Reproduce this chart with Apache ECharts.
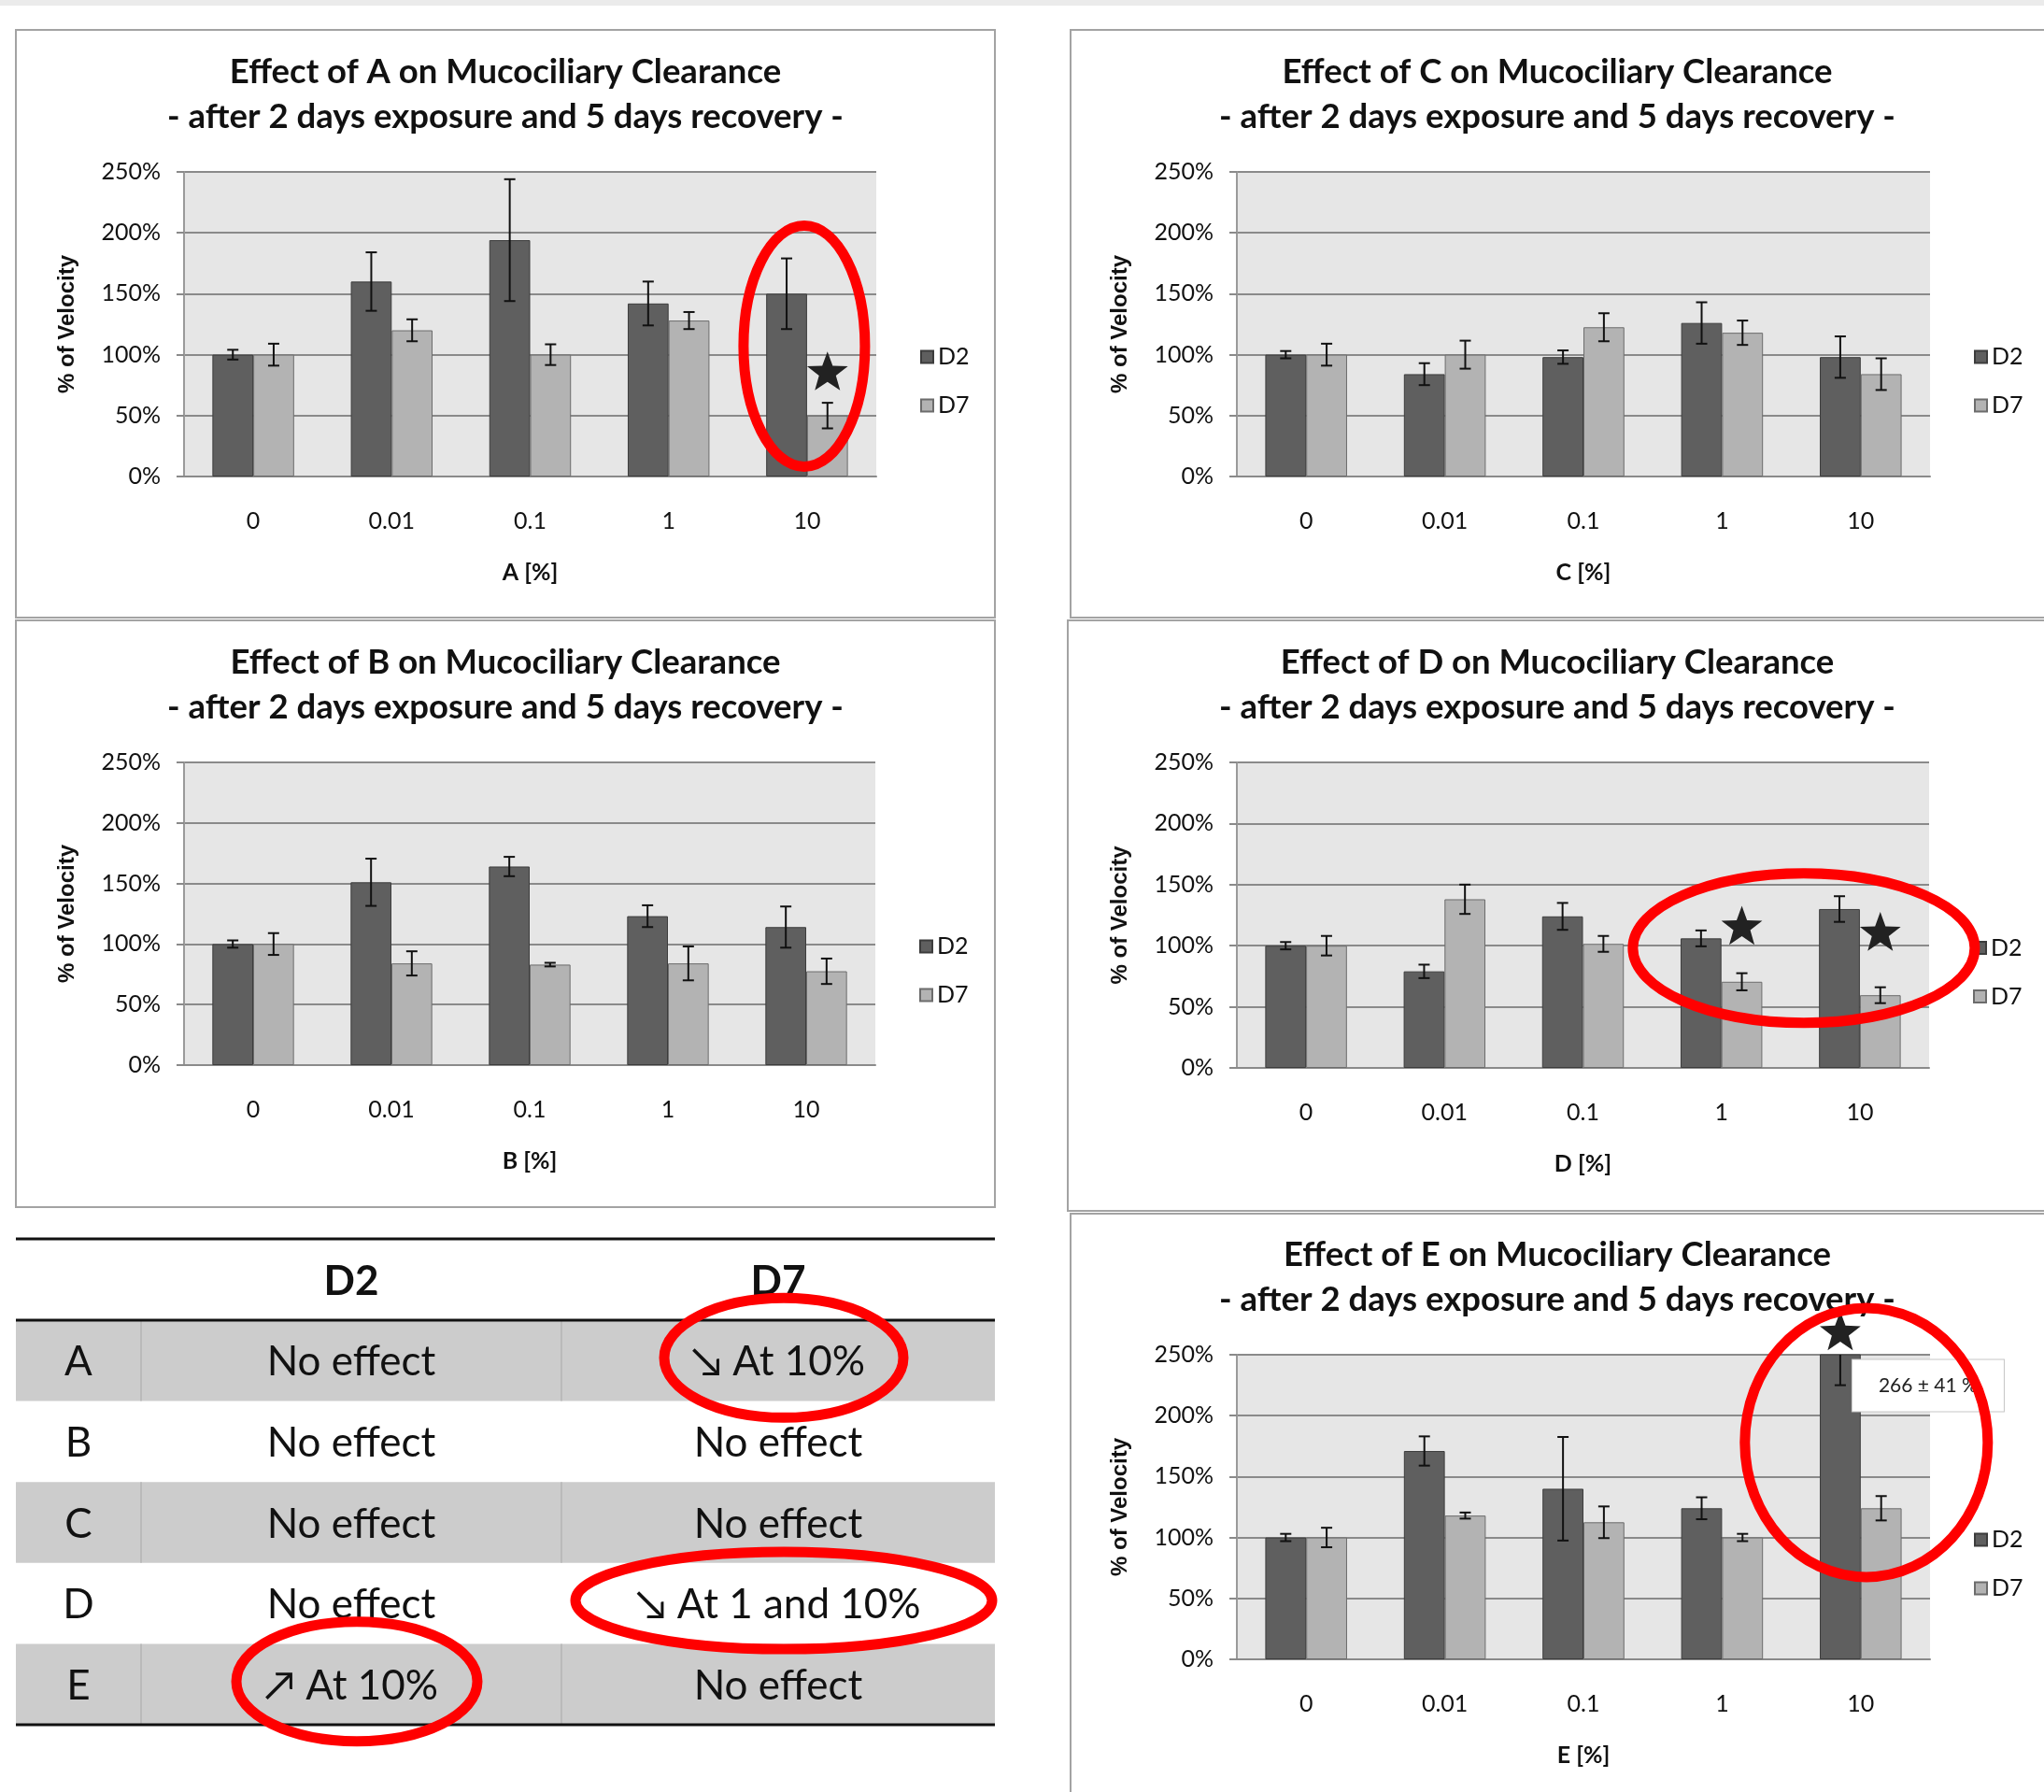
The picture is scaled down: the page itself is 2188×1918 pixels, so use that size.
<!DOCTYPE html>
<html>
<head>
<meta charset="utf-8">
<title>Mucociliary Clearance</title>
<script src="https://cdn.jsdelivr.net/npm/echarts/dist/echarts.min.js"></script>
<style>
  html, body { margin: 0; padding: 0; background: #ffffff; }
  #main { width: 2188px; height: 1918px; }
</style>
</head>
<body>
<div id="main"></div>
<script>
// Concentrations tested (x axis categories)
const categories = ['0', '0.01', '0.1', '1', '10'];
const seriesNames = ['D2', 'D7'];
const yTicks = [0, 50, 100, 150, 200, 250];

// Mean ciliary beat velocity (% of control) and SD, per agent and day
const aD2 = [100, 160, 194, 142, 150];
const aD2Err = [4, 24, 50, 18, 29];
const aD7 = [100, 120, 100, 128, 50];
const aD7Err = [9, 9, 8.5, 7, 10.5];

const bD2 = [100, 151, 164, 123, 114];
const bD2Err = [3, 19.5, 8, 9, 17];
const bD7 = [100, 84, 83, 84, 77.5];
const bD7Err = [9, 10, 1.5, 14, 10.5];

const cD2 = [100, 84, 98, 126, 98];
const cD2Err = [3, 9, 5.5, 17, 17];
const cD7 = [100, 100, 122.5, 118, 84];
const cD7Err = [9, 11.5, 11.5, 10, 13];

const dD2 = [100, 79, 124, 106, 130];
const dD2Err = [3, 5.5, 11, 6.5, 10.5];
const dD7 = [100, 138, 101.5, 70.5, 59.5];
const dD7Err = [8, 12, 6.5, 7, 6.5];

const eD2 = [100, 171, 140, 124, 266];
const eD2Err = [3, 12, 42.5, 9, 41];
const eD7 = [100, 118, 112.5, 100, 124];
const eD7Err = [8, 2.5, 13, 3, 10];

// Significance stars: [category index, height (%), bar slot 0=D2 1=D7]
const starsA = [[4, 85, 1]];
const starsD = [[3, 115, 1], [4, 110, 1]];
const starsE = [[4, 268, 0]];

// Summary table
const tableAgents = ['A', 'B', 'C', 'D', 'E'];
const tableD2 = ['No effect', 'No effect', 'No effect', 'No effect', '\u2197 At 10%'];
const tableD7 = ['\u2198 At 10%', 'No effect', 'No effect', '\u2198 At 1 and 10%', 'No effect'];
// Highlighted cells: [row, column(1=D2, 2=D7), ellipse rx, ry]
const tableHighlights = [[0, 2, 128, 64], [3, 2, 223, 52], [4, 1, 129, 64]];

const FONT = "Lato, 'Open Sans', 'Liberation Sans', sans-serif";
const AXIS_NAME_FONT = "'Liberation Sans', Arial, sans-serif";
const D2_COLOR = '#5f5f5f';
const D7_COLOR = '#b3b3b3';
const GRID_LINE = '#8a8a8a';
const BAR_GAP = 0.41;

const agents = {
  A: { d2: aD2, d2Err: aD2Err, d7: aD7, d7Err: aD7Err, stars: starsA },
  B: { d2: bD2, d2Err: bD2Err, d7: bD7, d7Err: bD7Err, stars: [] },
  C: { d2: cD2, d2Err: cD2Err, d7: cD7, d7Err: cD7Err, stars: [] },
  D: { d2: dD2, d2Err: dD2Err, d7: dD7, d7Err: dD7Err, stars: starsD },
  E: { d2: eD2, d2Err: eD2Err, d7: eD7, d7Err: eD7Err, stars: starsE }
};

// Panel frames and plot areas
const panels = [
  { agent: 'A', box: [17, 32, 1048, 629], cx: 541, grid: { left: 197, top: 184, width: 741, height: 326 } },
  { agent: 'C', box: [1146, 32, 1060, 629], cx: 1667, grid: { left: 1324, top: 184, width: 742, height: 326 } },
  { agent: 'B', box: [17, 664, 1048, 628], cx: 541, grid: { left: 197, top: 816, width: 740, height: 324 } },
  { agent: 'D', box: [1143, 664, 1060, 632], cx: 1667, grid: { left: 1324, top: 816, width: 741, height: 327 } },
  { agent: 'E', box: [1146, 1299, 1060, 640], cx: 1667, grid: { left: 1324, top: 1450, width: 742, height: 326 } }
];

function barCenter(api, idx, slot) {
  const band = api.size([1, 0])[0];
  const barW = band * (1 - BAR_GAP) / 2;
  return api.coord([idx, 0])[0] + (slot === 0 ? -barW / 2 : barW / 2);
}

function errorBarRenderer(slot) {
  return function (params, api) {
    const idx = api.value(0), v = api.value(1), e = api.value(2);
    const cx = barCenter(api, idx, slot);
    const top = api.coord([idx, v + e])[1];
    const bot = api.coord([idx, v - e])[1];
    const cap = 6;
    const style = { stroke: '#111', lineWidth: 2 };
    return {
      type: 'group',
      children: [
        { type: 'line', shape: { x1: cx, y1: top, x2: cx, y2: bot }, style },
        { type: 'line', shape: { x1: cx - cap, y1: top, x2: cx + cap, y2: top }, style },
        { type: 'line', shape: { x1: cx - cap, y1: bot, x2: cx + cap, y2: bot }, style }
      ]
    };
  };
}

function starRenderer(params, api) {
  const idx = api.value(0), v = api.value(1), slot = api.value(2);
  const cx = barCenter(api, idx, slot);
  const cy = api.coord([idx, v])[1];
  const R = 23, r = 9.5;
  const pts = [];
  for (let k = 0; k < 10; k++) {
    const a = -Math.PI / 2 + k * Math.PI / 5;
    const rad = k % 2 ? r : R;
    pts.push([cx + rad * Math.cos(a), cy + rad * Math.sin(a)]);
  }
  return { type: 'polygon', shape: { points: pts }, style: { fill: '#222222' } };
}

const grids = [], xAxes = [], yAxes = [], series = [], titles = [], legends = [], graphics = [];

// light strip along the top edge
graphics.push({ type: 'rect', shape: { x: 0, y: 0, width: 2188, height: 6 }, style: { fill: '#ebebeb' }, silent: true });

panels.forEach((p, i) => {
  const a = agents[p.agent];
  const g = p.grid;
  graphics.push({
    type: 'rect', z: -1, silent: true,
    shape: { x: p.box[0], y: p.box[1], width: p.box[2], height: p.box[3] },
    style: { fill: '#ffffff', stroke: '#a3a3a3', lineWidth: 2 }
  });
  grids.push({
    left: g.left, top: g.top, width: g.width, height: g.height,
    show: true, backgroundColor: '#e6e6e6', borderWidth: 0, containLabel: false
  });
  titles.push({
    text: 'Effect of ' + p.agent + ' on Mucociliary Clearance\n- after 2 days exposure and 5 days recovery -',
    left: p.cx, top: g.top - 131, textAlign: 'center', padding: 0,
    textStyle: { fontFamily: FONT, fontSize: 36.5, fontWeight: 'bold', lineHeight: 48, color: '#111' }
  });
  xAxes.push({
    type: 'category', gridIndex: i, data: categories,
    name: p.agent + ' [%]', nameLocation: 'middle', nameGap: 90,
    nameTextStyle: { fontFamily: FONT, fontSize: 25, fontWeight: 'bold', color: '#111' },
    axisLabel: { fontFamily: FONT, fontSize: 25, color: '#111', margin: 35 },
    axisTick: { show: false },
    axisLine: { lineStyle: { color: GRID_LINE, width: 2 } }
  });
  yAxes.push({
    type: 'value', gridIndex: i, min: yTicks[0], max: yTicks[yTicks.length - 1], interval: yTicks[1] - yTicks[0],
    name: '% of Velocity', nameLocation: 'middle', nameGap: 113, nameRotate: 90,
    nameTextStyle: { fontFamily: AXIS_NAME_FONT, fontSize: 24, fontWeight: 'bold', color: '#111' },
    axisLabel: { formatter: '{value}%', fontFamily: FONT, fontSize: 25, color: '#111', margin: 25 },
    axisLine: { show: true, lineStyle: { color: '#9a9a9a', width: 2 } },
    axisTick: { show: true, length: 8, lineStyle: { color: GRID_LINE, width: 2 } },
    splitLine: { lineStyle: { color: GRID_LINE, width: 2 } }
  });
  legends.push({
    orient: 'vertical', left: g.left + g.width + 42, top: g.top + g.height / 2 + 17,
    itemWidth: 13, itemHeight: 13, itemGap: 26, icon: 'rect',
    data: seriesNames,
    textStyle: { fontFamily: FONT, fontSize: 25, color: '#111', lineHeight: 26 }
  });

  const d2Data = a.d2.slice();
  const d2Series = {
    name: 'D2', type: 'bar', xAxisIndex: i, yAxisIndex: i,
    data: d2Data, barGap: '0%', barCategoryGap: (BAR_GAP * 100) + '%',
    itemStyle: { color: D2_COLOR, borderColor: '#3c3c3c', borderWidth: 1 },
    emphasis: { disabled: true }, animation: false
  };
  if (p.agent === 'E') {
    // value of the clipped bar written beside it
    d2Series.markPoint = {
      symbol: 'rect', symbolSize: 1, itemStyle: { color: 'rgba(0,0,0,0)' },
      data: [{
        coord: [categories[4], yTicks[yTicks.length - 1]],
        label: {
          show: true, position: 'inside', offset: [94, 33],
          formatter: eD2[4] + ' \u00b1 ' + eD2Err[4] + ' %',
          fontFamily: FONT, fontSize: 21, color: '#222',
          backgroundColor: '#ffffff', borderColor: '#c6c6c6', borderWidth: 1,
          padding: [17, 28, 17, 28]
        }
      }]
    };
  }
  series.push(d2Series);
  series.push({
    name: 'D7', type: 'bar', xAxisIndex: i, yAxisIndex: i,
    data: a.d7, barGap: '0%', barCategoryGap: (BAR_GAP * 100) + '%',
    itemStyle: { color: D7_COLOR, borderColor: '#6c6c6c', borderWidth: 1 },
    emphasis: { disabled: true }, animation: false
  });
  series.push({
    type: 'custom', xAxisIndex: i, yAxisIndex: i, clip: true, z: 5,
    renderItem: errorBarRenderer(0), encode: { x: 0, y: 1 },
    data: a.d2.map((v, k) => [k, v, a.d2Err[k]]), animation: false, silent: true
  });
  series.push({
    type: 'custom', xAxisIndex: i, yAxisIndex: i, clip: true, z: 5,
    renderItem: errorBarRenderer(1), encode: { x: 0, y: 1 },
    data: a.d7.map((v, k) => [k, v, a.d7Err[k]]), animation: false, silent: true
  });
  if (a.stars.length) {
    series.push({
      type: 'custom', xAxisIndex: i, yAxisIndex: i, clip: false, z: 6,
      renderItem: starRenderer, encode: { x: 0, y: 1 },
      data: a.stars, animation: false, silent: true
    });
  }
});

// Summary table
const colX = [17, 151, 601, 1065];
const colCenter = [84, 376, 833];
const headerTop = 1326, headerBottom = 1413, rowH = 86.6;
const cellFont = { fontFamily: FONT, fontSize: 44, fill: '#111' };

tableAgents.forEach((name, r) => {
  const y0 = headerBottom + r * rowH;
  if (r % 2 === 0) {
    graphics.push({ type: 'rect', silent: true, shape: { x: colX[0], y: y0, width: colX[3] - colX[0], height: rowH }, style: { fill: '#cccccc' } });
    [colX[1], colX[2]].forEach(x => graphics.push({
      type: 'line', silent: true, shape: { x1: x, y1: y0, x2: x, y2: y0 + rowH }, style: { stroke: '#a8a8a8', lineWidth: 1 }
    }));
  }
  const cy = y0 + rowH / 2 + 2;
  [name, tableD2[r], tableD7[r]].forEach((txt, c) => graphics.push({
    type: 'text', silent: true, z: 2,
    style: Object.assign({ text: txt, x: colCenter[c], y: cy, align: 'center', verticalAlign: 'middle' }, cellFont)
  }));
});
['D2', 'D7'].forEach((h, k) => graphics.push({
  type: 'text', silent: true, z: 2,
  style: { text: h, x: colCenter[k + 1], y: (headerTop + headerBottom) / 2 + 2, align: 'center', verticalAlign: 'middle',
    fontFamily: FONT, fontSize: 44, fontWeight: 'bold', fill: '#111' }
}));
[headerTop, headerBottom, headerBottom + tableAgents.length * rowH].forEach(y => graphics.push({
  type: 'line', silent: true, z: 3, shape: { x1: colX[0], y1: y, x2: colX[3], y2: y }, style: { stroke: '#111', lineWidth: 3 }
}));
tableHighlights.forEach(([r, c, rx, ry]) => graphics.push({
  type: 'ellipse', silent: true, z: 10,
  shape: { cx: colCenter[c] + 6, cy: headerBottom + r * rowH + rowH / 2 - 3, rx: rx, ry: ry },
  style: { fill: null, stroke: '#ff0000', lineWidth: 11 }
}));

const chart = echarts.init(document.getElementById('main'), null, { renderer: 'canvas' });
chart.setOption({
  backgroundColor: '#ffffff',
  animation: false,
  title: titles,
  legend: legends,
  grid: grids,
  xAxis: xAxes,
  yAxis: yAxes,
  series: series,
  graphic: graphics
});

// Red ellipses around the significant groups, placed in data coordinates
const chartHighlights = [
  { grid: 0, from: '10', to: '10', t: 0, value: 107, dx: -3, rx: 65, ry: 129 },
  { grid: 3, from: '1', to: '10', t: 0.595, value: 98, dx: 0, rx: 183, ry: 80 },
  { grid: 4, from: '10', to: '10', t: 0, value: 178, dx: 6, rx: 130, ry: 144 }
];
const extra = chartHighlights.map(h => {
  const p1 = chart.convertToPixel({ gridIndex: h.grid }, [h.from, h.value]);
  const p2 = chart.convertToPixel({ gridIndex: h.grid }, [h.to, h.value]);
  return {
    type: 'ellipse', silent: true, z: 10,
    shape: { cx: p1[0] + (p2[0] - p1[0]) * h.t + h.dx, cy: p1[1], rx: h.rx, ry: h.ry },
    style: { fill: null, stroke: '#ff0000', lineWidth: 11 }
  };
});
chart.setOption({ graphic: graphics.concat(extra) });
</script>
</body>
</html>
